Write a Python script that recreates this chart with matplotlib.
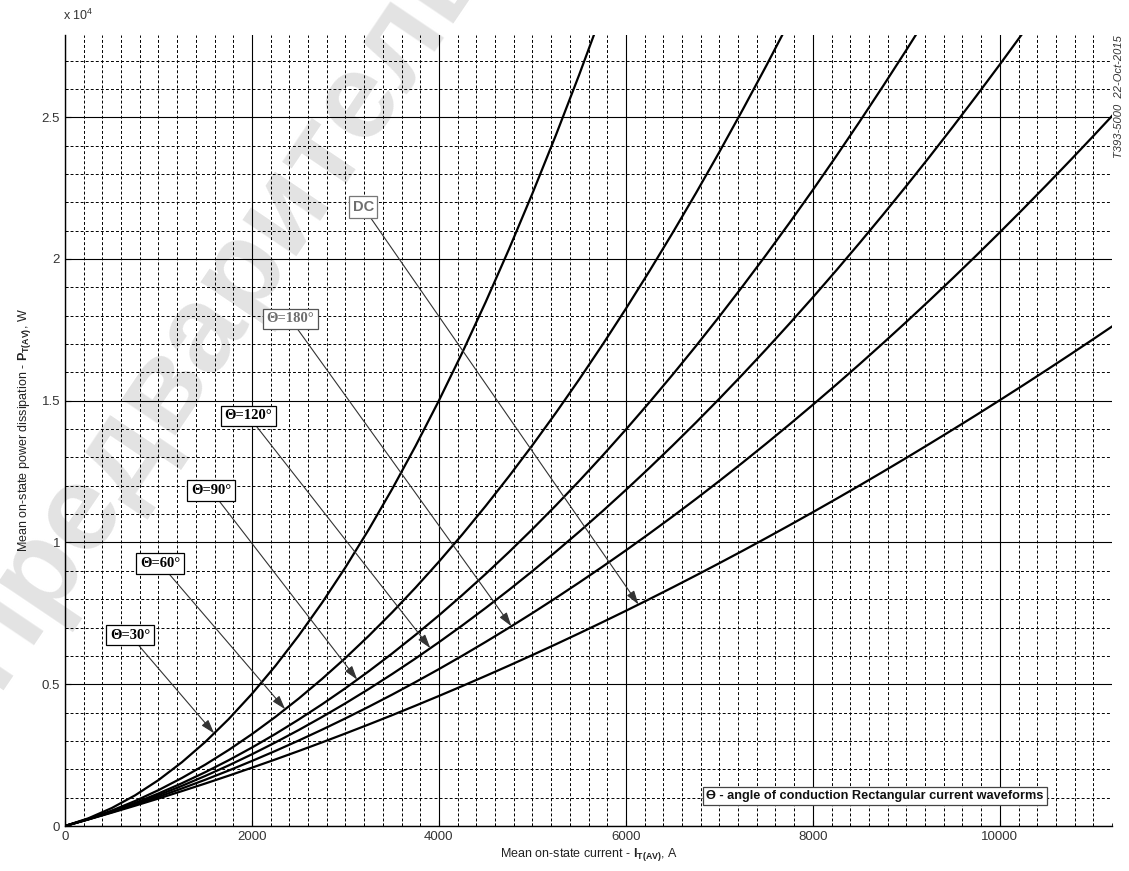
import numpy as np
import matplotlib
matplotlib.use("Agg")
import matplotlib.pyplot as plt
from matplotlib.ticker import MultipleLocator, FuncFormatter

plt.rcParams["font.family"] = ["Liberation Sans", "DejaVu Sans"]
plt.rcParams["mathtext.fontset"] = "custom"
plt.rcParams["mathtext.rm"] = "Liberation Sans"
plt.rcParams["mathtext.bf"] = "Liberation Sans:bold"
plt.rcParams["mathtext.it"] = "Liberation Sans:italic"

# Mean on-state current, A
current = [0, 250, 500, 750, 1000, 1250, 1500, 1750, 2000, 2250, 2500, 2750,
           3000, 3250, 3500, 3750, 4000, 4250, 4500, 4750, 5000, 5250, 5500, 5750,
           6000, 6250, 6500, 6750, 7000, 7250, 7500, 7750, 8000, 8250, 8500, 8750,
           9000, 9250, 9500, 9750, 10000, 10250, 10500, 10750, 11000, 11200]

# Mean on-state power dissipation, W, per conduction angle
p_30 = [0, 272, 633, 1082, 1620, 2248, 2963, 3768, 4662, 5644, 6715, 7875,
        9124, 10461, 11887, 13403, 15006, 16699, 18481, 20351, 22310, 24358, 26495, 28720]
p_60 = [0, 250, 544, 882, 1265, 1693, 2164, 2680, 3241, 3846, 4495, 5189,
        5927, 6709, 7536, 8408, 9323, 10283, 11288, 12337, 13430, 14568, 15750, 16976,
        18247, 19563, 20922, 22326, 23775, 25268, 26805, 28387]
p_90 = [0, 242, 514, 816, 1147, 1508, 1898, 2318, 2767, 3246, 3755, 4293,
        4861, 5459, 6086, 6743, 7429, 8145, 8890, 9665, 10470, 11304, 12168, 13062,
        13985, 14938, 15920, 16932, 17973, 19044, 20145, 21275, 22435, 23625, 24844, 26093,
        27371, 28679]
p_120 = [0, 239, 499, 782, 1088, 1415, 1765, 2136, 2530, 2947, 3385, 3846,
         4328, 4833, 5361, 5910, 6482, 7075, 7691, 8330, 8990, 9673, 10377, 11104,
         11854, 12625, 13419, 14234, 15072, 15933, 16815, 17720, 18646, 19595, 20567, 21560,
         22576, 23613, 24673, 25755, 26860, 27987, 29135]
p_180 = [0, 235, 485, 749, 1028, 1323, 1631, 1955, 2294, 2647, 3015, 3398,
         3796, 4208, 4635, 5078, 5534, 6006, 6493, 6994, 7510, 8041, 8587, 9147,
         9722, 10313, 10917, 11537, 12172, 12821, 13485, 14164, 14858, 15566, 16289, 17028,
         17780, 18548, 19331, 20128, 20940, 21767, 22609, 23465, 24336, 25044]
p_dc = [0, 231, 470, 716, 969, 1230, 1498, 1774, 2057, 2347, 2645, 2950,
        3263, 3583, 3910, 4245, 4587, 4937, 5294, 5658, 6030, 6409, 6796, 7190,
        7591, 8000, 8416, 8840, 9271, 9709, 10155, 10608, 11069, 11537, 12012, 12495,
        12985, 13483, 13988, 14500, 15020, 15547, 16082, 16624, 17173, 17618]

series = [p_30, p_60, p_90, p_120, p_180, p_dc]
labels = ["Θ=30°", "Θ=60°", "Θ=90°", "Θ=120°", "Θ=180°", "DC"]
# current at which each arrow meets its curve
arrow_current = [1595, 2355, 3126, 3908, 4775, 6135]
# label box centres (current, power)
label_pos = [(696, 6725), (1017, 9261), (1563, 11831), (1959, 14472), (2409, 17887), (3190, 21830)]
label_color = ["black", "black", "black", "black", "#6e6e6e", "#6e6e6e"]
edge_color = ["black", "black", "black", "black", "#555555", "#777777"]

X_MAX, Y_MAX = 11200, 27900

W, H = 1129, 871
fig = plt.figure(figsize=(W / 100, H / 100), dpi=100)
ax = fig.add_axes([65 / W, 1 - 826 / H, (1112 - 65) / W, (826 - 35) / H])

# faint background watermark
fig.text(-30 / W, 1 - 672 / H, "Предварительно", fontsize=88, fontweight="bold",
         color="#e3e3e3", rotation=56, rotation_mode="anchor", ha="left",
         va="center", zorder=0, family=["Liberation Sans", "DejaVu Sans"])
ax.set_facecolor("none")
ax.set_zorder(1)

ax.set_xlim(0, X_MAX)
ax.set_ylim(0, Y_MAX)
ax.xaxis.set_major_locator(MultipleLocator(2000))
ax.xaxis.set_minor_locator(MultipleLocator(200))
ax.yaxis.set_major_locator(MultipleLocator(5000))
ax.yaxis.set_minor_locator(MultipleLocator(1000))
ax.yaxis.set_major_formatter(FuncFormatter(lambda v, _: f"{v / 1e4:g}"))

ax.grid(which="major", color="black", lw=0.8, ls="-", zorder=1)
ax.grid(which="minor", color="black", lw=0.7, ls=(0, (3, 2.2)), zorder=1)
ax.set_axisbelow(True)

for side in ("top", "right"):
    ax.spines[side].set_visible(False)
for side in ("left", "bottom"):
    ax.spines[side].set_linewidth(1.0)

ax.tick_params(which="both", direction="in", colors="black", labelcolor="#333333",
               labelsize=9.5)
ax.tick_params(which="major", length=4)
ax.tick_params(which="minor", length=2.5)

for p in series:
    ax.plot(current[:len(p)], p, color="black", lw=1.6, zorder=3, clip_on=True)

for p, lab, ic, pos, tc, ec in zip(series, labels, arrow_current, label_pos,
                                   label_color, edge_color):
    tip = (ic, np.interp(ic, current[:len(p)], p))
    ax.annotate(lab, xy=tip, xytext=pos, ha="center", va="center",
                fontsize=10.5, fontweight="bold", color=tc,
                family=["Liberation Serif", "DejaVu Serif"] if lab != "DC" else ["Liberation Sans"],
                bbox=dict(boxstyle="square,pad=0.25", fc="white", ec=ec, lw=0.9),
                arrowprops=dict(arrowstyle="-|>,head_length=0.8,head_width=0.25",
                                color="#333333", lw=0.8, shrinkA=0, shrinkB=0),
                zorder=5)

ax.text(0.9345, 0.0382, "ϴ - angle of conduction Rectangular current waveforms",
        transform=ax.transAxes, ha="right", va="center", fontsize=9.2,
        fontweight="bold", color="#111111",
        bbox=dict(boxstyle="square,pad=0.25", fc="white", ec="#444444", lw=0.9),
        zorder=5, family=["Liberation Sans", "DejaVu Sans"])

ax.set_xlabel(r"Mean on-state current - $\mathbf{I_{T(AV)}}$, A", fontsize=9,
              color="#222222", labelpad=2)
ax.set_ylabel(r"Mean on-state power dissipation - $\mathbf{P_{T(AV)}}$, W",
              fontsize=9, color="#222222", labelpad=6)

fig.text(63 / W, 1 - 20 / H, r"x 10$^{4}$", fontsize=9, color="#333333",
         ha="left", va="baseline")
fig.text(1119 / W, 1 - 35 / H, "T393-5000  22-Oct-2015", fontsize=8,
         style="italic", color="#333333", rotation=90, ha="center", va="top")

fig.savefig("out.png", dpi=100)
